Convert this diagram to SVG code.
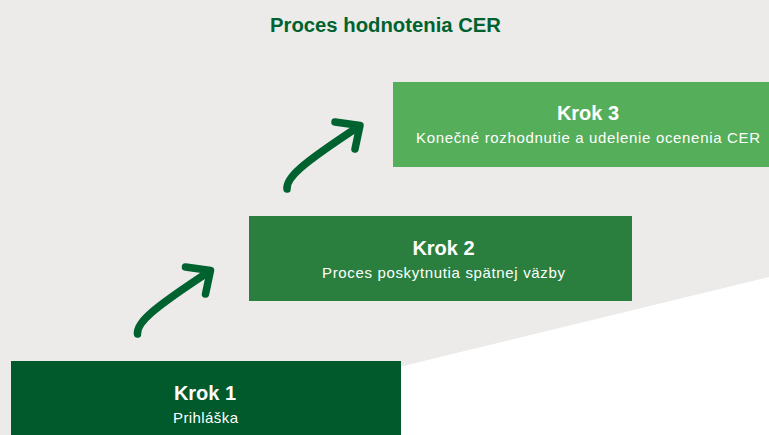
<svg xmlns="http://www.w3.org/2000/svg" xmlns:xlink="http://www.w3.org/1999/xlink" width="769" height="435" viewBox="0 0 769 435">
  <style>
    .title { font-family: "Liberation Sans", Arial, sans-serif; font-weight: bold; font-size: 20px; fill: #00622F; }
    .head { font-family: "Liberation Sans", Arial, sans-serif; font-weight: bold; font-size: 20px; fill: #FFFFFF; text-anchor: middle; }
    .sub { font-family: "Liberation Sans", Arial, sans-serif; font-size: 15px; fill: #FFFFFF; text-anchor: middle; }
    .arrow { fill: none; stroke: #00622F; stroke-width: 7.5; stroke-linecap: round; stroke-linejoin: round; }
  </style>
  <defs>
    <g id="step-arrow">
      <path class="arrow" d="M287,189 C286,178 300,165 358,127"/>
      <path class="arrow" d="M335,122 L360,125.5 L355,149"/>
    </g>
  </defs>

  <!-- background -->
  <rect x="0" y="0" width="769" height="435" fill="#ECEBE9"/>
  <polygon points="769,277 769,435 119,435" fill="#FFFFFF"/>

  <text class="title" x="270" y="31.5" textLength="231" lengthAdjust="spacingAndGlyphs">Proces hodnotenia CER</text>

  <!-- connectors -->
  <g id="connectors">
    <use xlink:href="#step-arrow" transform="translate(-149.5,145)"/>
    <use xlink:href="#step-arrow"/>
  </g>

  <g id="krok1">
    <rect x="11" y="361" width="390" height="74" fill="#005A2C"/>
    <text class="head" x="205" y="400">Krok 1</text>
    <text class="sub" x="205.5" y="423" textLength="65">Prihláška</text>
  </g>

  <g id="krok2">
    <rect x="249" y="216" width="383" height="85" fill="#2A7F3E"/>
    <text class="head" x="443.5" y="255">Krok 2</text>
    <text class="sub" x="443.5" y="278" textLength="243">Proces poskytnutia spätnej väzby</text>
  </g>

  <g id="krok3">
    <rect x="393" y="82" width="376" height="85" fill="#55AE5A"/>
    <text class="head" x="588" y="120">Krok 3</text>
    <text class="sub" x="588" y="143" textLength="344">Konečné rozhodnutie a udelenie ocenenia CER</text>
  </g>
</svg>
